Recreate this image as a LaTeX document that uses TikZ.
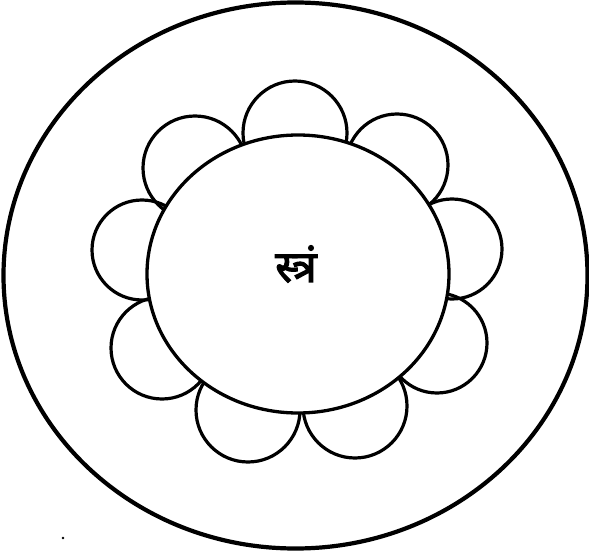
\documentclass[tikz,border=0pt]{standalone}
\usepackage{fontspec}
\newfontfamily\deva[Script=Devanagari,FakeBold=2.5]{Noto Sans}
\begin{document}
\begin{tikzpicture}[x=1pt,y=-1pt,
  petal/.style={draw=black,line width=3.2pt},
  ring/.style={draw=black,line width=4.2pt},
  core/.style={draw=black,fill=white,line width=3.3pt}]
\useasboundingbox (0,0) rectangle (589,556);
% outer ring
\draw[ring] (295.5,275.5) ellipse [x radius=292, y radius=273];
% petals
\foreach \cx/\cy/\r in {295/133/52, 195/168/52, 142/250/50, 162/348/51, 248/410/52,
                        355/406/52, 437/343/50, 452/249/50, 397/165/51}
  \draw[petal] (\cx,\cy) circle [radius=\r];
% central disc
\draw[core] (298,274) ellipse [x radius=151, y radius=139];
\node[font=\deva\fontsize{44}{44}\selectfont, inner sep=0pt] (bija) at (296,264) {स्त्रं};
% speck
\fill (63,538) circle [radius=1.3];
\end{tikzpicture}
\end{document}
